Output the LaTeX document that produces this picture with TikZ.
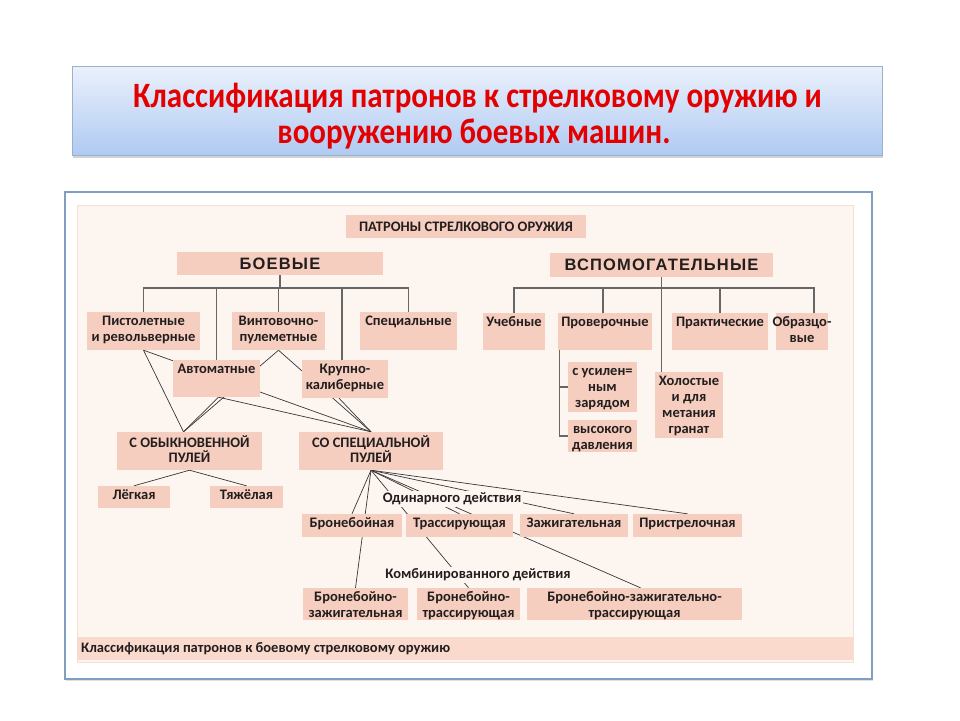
\documentclass[tikz,border=0pt]{standalone}
\usepackage{fontspec}
\setmainfont{Carlito}
\newfontfamily\heavy[LetterSpace=7]{Liberation Sans}
\usetikzlibrary{fit,shadows}
\pgfdeclarelayer{back}\pgfdeclarelayer{bg}\pgfsetlayers{back,bg,main}
\definecolor{boxc}{RGB}{246,206,192}
\definecolor{panelc}{RGB}{253,245,240}
\definecolor{bandc}{RGB}{249,218,205}
\definecolor{framec}{RGB}{128,158,192}
\definecolor{txtc}{RGB}{34,30,30}
\definecolor{linec}{RGB}{55,55,55}
\definecolor{titlered}{RGB}{226,0,0}
\definecolor{ttop}{RGB}{234,241,252}
\definecolor{tbot}{RGB}{176,202,242}
\newcommand\bxx[6]{\node[box, fit={(#2,#3) (#4,#5)}] (#1) {};
  \node[btxt, anchor=north] (#1t) at ([yshift=-3.2pt]#1.north) {\rule{0pt}{10.6pt}#6};}
\newcommand\tline[1]{\scalebox{1}[1.15]{#1}}
\begin{document}
\begin{tikzpicture}[x=1pt,y=-1pt,
  box/.style={fill=boxc, inner sep=0pt, draw=none},
  btxt/.style={inner sep=0pt, align=center, text=txtc, font=\bfseries\fontsize{14.5}{15.8}\selectfont},
  bigtxt/.style={inner sep=0pt, align=center, text=txtc, font=\heavy\bfseries\fontsize{16.5}{18}\selectfont},
  ttxt/.style={inner sep=0pt, anchor=base, text=titlered, font=\bfseries\fontsize{31}{36}\selectfont},
  conn/.style={draw=linec, line width=0.7pt},
  tree/.style={draw=black!60, line width=1.1pt},
  lbl/.style={fill=panelc, inner sep=1.5pt, text=txtc, font=\bfseries\fontsize{14.5}{16}\selectfont}]
\useasboundingbox (0,0) rectangle (960,720);
\begin{pgfonlayer}{back}
  \fill[white] (0,0) rectangle (960,720);
  \node[fit={(72,66) (882,155)}, inner sep=0pt, top color=ttop, bottom color=tbot,
        draw=framec!80, line width=0.8pt,
        drop shadow={opacity=0.35, shadow xshift=1pt, shadow yshift=-2.5pt}] (tbox) {};
  \node[fit={(65,192) (872,679)}, inner sep=0pt, fill=white, draw=framec, line width=1.6pt,
        drop shadow={opacity=0.25, shadow xshift=1pt, shadow yshift=-2pt}] (frame) {};
  \node[fit={(77,205) (853,662)}, inner sep=0pt, fill=panelc, draw=boxc!70, line width=0.6pt] (panel) {};
  \node[fit={(77,637) (853,660)}, inner sep=0pt, fill=bandc] (band) {};
\end{pgfonlayer}
\node[ttxt] (ttl1) at (477.5,107) {\tline{Классификация патронов к стрелковому оружию и}};
\node[ttxt] (ttl2) at (474,143) {\tline{вооружению боевых машин.}};
\node[btxt, anchor=west] (capt) at (81,648.5) {Классификация патронов к боевому стрелковому оружию};
% boxes
\node[box, fit={(346,215) (586,238)}] (patr) {};
\node[btxt, font=\bfseries\fontsize{14.5}{16}\selectfont] (patrt) at (patr.center) {ПАТРОНЫ СТРЕЛКОВОГО ОРУЖИЯ};
\node[box, fit={(177,252) (383,275)}] (boe) {};
\node[bigtxt] (boet) at (boe.center) {БОЕВЫЕ};
\node[box, fit={(550,253) (773,277)}] (vsp) {};
\node[bigtxt] (vspt) at (vsp.center) {ВСПОМОГАТЕЛЬНЫЕ};
\bxx{pist}{87}{312}{200}{350}{Пистолетные\\и револьверные}
\bxx{vint}{232}{312}{325}{350}{Винтовочно-\\пулеметные}
\bxx{spec}{360}{312}{457}{350}{Специальные}
\bxx{avt}{173}{360}{260}{397}{Автоматные}
\bxx{krup}{302}{360}{388}{398}{Крупно-\\калиберные}
\bxx{ucheb}{483}{313}{545}{350}{Учебные}
\bxx{prov}{558}{313}{652}{350}{Проверочные}
\bxx{prakt}{672}{313}{768}{350}{Практические}
\bxx{obr}{776}{313}{828}{350}{Образцо-\\вые}
\bxx{usil}{568}{362}{637}{412}{с усилен=\\ным\\зарядом}
\bxx{vys}{568}{420}{637}{452}{высокого\\давления}
\bxx{hol}{655}{372}{723}{438}{Холостые\\и для\\метания\\гранат}
\bxx{sob}{117}{432}{262}{470}{С ОБЫКНОВЕННОЙ\\ПУЛЕЙ}
\bxx{ssp}{299}{432}{443}{470}{СО СПЕЦИАЛЬНОЙ\\ПУЛЕЙ}
\bxx{leg}{98}{486}{170}{508}{Лёгкая}
\bxx{tya}{210}{486}{283}{508}{Тяжёлая}
\bxx{bron}{302}{514}{402}{537}{Бронебойная}
\bxx{tras}{406}{514}{513}{537}{Трассирующая}
\bxx{zaj}{520}{514}{628}{537}{Зажигательная}
\bxx{prist}{633}{514}{742}{537}{Пристрелочная}
\bxx{bz}{303}{588}{408}{620}{Бронебойно-\\зажигательная}
\bxx{bt}{417}{588}{520}{620}{Бронебойно-\\трассирующая}
\bxx{bzt}{527}{588}{742}{620}{Бронебойно-зажигательно-\\трассирующая}
\node[lbl] (odin) at (452,499) {Одинарного действия};
\node[lbl] (komb) at (478,575) {Комбинированного действия};
\coordinate (busy) at (0,288);
\coordinate (sobA) at ([xshift=-6pt]sob.north);
\begin{pgfonlayer}{bg}
  % left tree
  \draw[tree] (boe.south) -- (boe.south |- busy);
  \draw[tree] (pist.north) -- (pist.north |- busy) -- (spec.north |- busy) -- (spec.north);
  \draw[tree] (avt.north) -- (avt.north |- busy);
  \draw[tree] (vint.north) -- (vint.north |- busy);
  \draw[tree] ([xshift=-3pt]krup.north) -- ([xshift=-3pt]krup.north |- busy);
  % right tree
  \draw[tree] (vsp.south) -- (vsp.south |- hol.north);
  \draw[tree] (ucheb.north) -- (ucheb.north |- busy) -- ([xshift=12pt]obr.north |- busy) -- ([xshift=12pt]obr.north);
  \draw[tree] ([xshift=-2pt]prov.north) -- ([xshift=-2pt]prov.north |- busy);
  \draw[tree] (prakt.north) -- (prakt.north |- busy);
  \draw[tree] ([xshift=1.5pt]prov.south west) |- (usil.west);
  \draw[tree] ([xshift=1.5pt]prov.south west) |- (vys.west);
  % bullets
  \draw[conn] (pist.south) -- (sobA);
  \draw[conn] (pist.south) -- (ssp.north);
  \draw[conn] (vint.south) -- (sobA);
  \draw[conn] (vint.south) -- (ssp.north);
  \draw[conn] ([xshift=2pt]avt.south) -- (sobA);
  \draw[conn] ([xshift=2pt]avt.south) -- (ssp.north);
  \draw[conn] ([xshift=-6pt]krup.south) -- (ssp.north);
  \draw[conn] (sob.south) -- (leg.north);
  \draw[conn] (sob.south) -- (tya.north);
  \draw[conn] (ssp.south) -- (bron.north);
  \draw[conn] (ssp.south) -- (bz.north);
  \draw[conn] (ssp.south) -- (tras.north);
  \draw[conn] (ssp.south) -- (bt.north);
  \draw[conn] (ssp.south) -- ([xshift=6pt]bzt.north);
  \draw[conn] (ssp.south) -- (zaj.north);
  \draw[conn] (ssp.south) -- (prist.north);
\end{pgfonlayer}
\end{tikzpicture}
\end{document}
